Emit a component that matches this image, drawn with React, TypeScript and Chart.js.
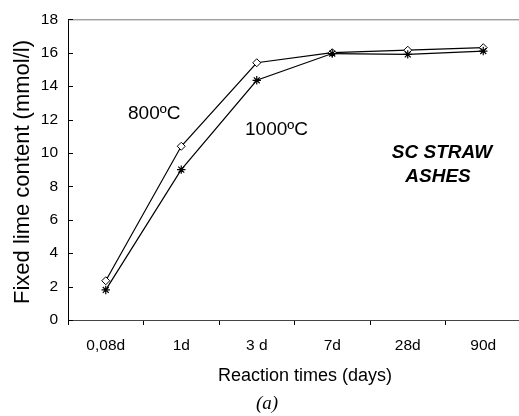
import { useEffect, useRef } from 'react';
import { Chart, registerables } from 'chart.js';

Chart.register(...registerables);

const categories = ['0,08d', '1d', '3 d', '7d', '28d', '90d'];
const series800 = [2.35, 10.4, 15.4, 16.0, 16.15, 16.3];
const series1000 = [1.8, 9.0, 14.35, 15.95, 15.9, 16.1];
const yMin = 0;
const yMax = 18;
const yStep = 2;

const SANS = '"Liberation Sans", Arial, sans-serif';
const CANVAS_W = 530;
const CANVAS_H = 416;

const annotPlugin = {
  id: 'annot',
  afterDraw(chart: any) {
    const ctx = chart.ctx as CanvasRenderingContext2D;
    const area = chart.chartArea;
    const y = chart.scales.y;
    ctx.save();
    // top border
    ctx.strokeStyle = '#777';
    ctx.lineWidth = 1;
    ctx.beginPath();
    ctx.moveTo(area.left, area.top + 0.5);
    ctx.lineTo(area.right, area.top + 0.5);
    ctx.stroke();
    // inward y ticks
    ctx.strokeStyle = '#000';
    for (let v = yMin; v <= yMax; v += yStep) {
      const py = Math.round(y.getPixelForValue(v)) + 0.5;
      ctx.beginPath();
      ctx.moveTo(area.left, py);
      ctx.lineTo(area.left + 5, py);
      ctx.stroke();
    }
    ctx.fillStyle = '#000';
    ctx.textBaseline = 'middle';
    // series labels
    ctx.font = `19px ${SANS}`;
    ctx.textAlign = 'left';
    ctx.fillText('800ºC', 128, 114);
    ctx.fillText('1000ºC', 245, 130);
    ctx.font = `italic bold 19px ${SANS}`;
    ctx.textAlign = 'center';
    ctx.fillText('SC STRAW', 442, 153);
    ctx.fillText('ASHES', 438, 177);
    // axis titles
    ctx.font = `18px ${SANS}`;
    ctx.fillText('Reaction times (days)', 305, 376);
    ctx.font = `italic 19px "Liberation Serif", "Times New Roman", serif`;
    ctx.fillText('(a)', 267, 404);
    ctx.translate(23, 172);
    ctx.rotate(-Math.PI / 2);
    ctx.font = `22px ${SANS}`;
    ctx.fillText('Fixed lime content (mmol/l)', 0, 0);
    ctx.restore();
  },
};

export default function App() {
  const ref = useRef<HTMLCanvasElement>(null);
  useEffect(() => {
    const chart = new Chart(ref.current!, {
      type: 'line',
      data: {
        labels: categories,
        datasets: [
          {
            label: '1000ºC',
            data: series1000,
            borderColor: '#000',
            borderWidth: 1.2,
            tension: 0,
            pointStyle: 'star',
            pointRadius: 4.2,
            pointBorderColor: '#000',
            pointBorderWidth: 1.2,
            pointBackgroundColor: '#000',
          },
          {
            label: '800ºC',
            data: series800,
            borderColor: '#000',
            borderWidth: 1.2,
            tension: 0,
            pointStyle: 'rectRot',
            pointRadius: 4,
            pointBorderColor: '#000',
            pointBorderWidth: 1,
            pointBackgroundColor: '#fff',
          },
        ],
      },
      options: {
        animation: false,
        responsive: false,
        devicePixelRatio: 1,
        layout: { padding: { top: 15, right: CANVAS_W - 521, left: 0, bottom: 0 } },
        plugins: { legend: { display: false }, tooltip: { enabled: false } },
        scales: {
          x: {
            type: 'category',
            offset: true,
            grid: {
              display: true,
              drawOnChartArea: false,
              drawTicks: true,
              tickLength: 5,
              color: '#000',
              offset: true,
            },
            border: { color: '#444', width: 1 },
            ticks: {
              font: { family: SANS, size: 15.5 },
              color: '#000',
              padding: 11,
              maxRotation: 0,
              autoSkip: false,
            },
            afterFit: (s: any) => {
              s.height = CANVAS_H - 320;
            },
          },
          y: {
            min: yMin,
            max: yMax,
            ticks: {
              stepSize: yStep,
              font: { family: SANS, size: 15.5 },
              color: '#000',
              padding: 10,
            },
            grid: { display: true, drawOnChartArea: false, drawTicks: false },
            border: { color: '#000', width: 1 },
            afterFit: (s: any) => {
              s.width = 68;
            },
          },
        },
      },
      plugins: [annotPlugin],
    });
    return () => chart.destroy();
  }, []);
  return (
    <div
      style={{
        position: 'fixed',
        left: 0,
        top: 0,
        width: 519,
        height: 416,
        overflow: 'hidden',
        background: '#fff',
      }}
    >
      <canvas
        ref={ref}
        width={CANVAS_W}
        height={CANVAS_H}
        style={{ width: CANVAS_W, height: CANVAS_H, display: 'block' }}
      />
    </div>
  );
}
